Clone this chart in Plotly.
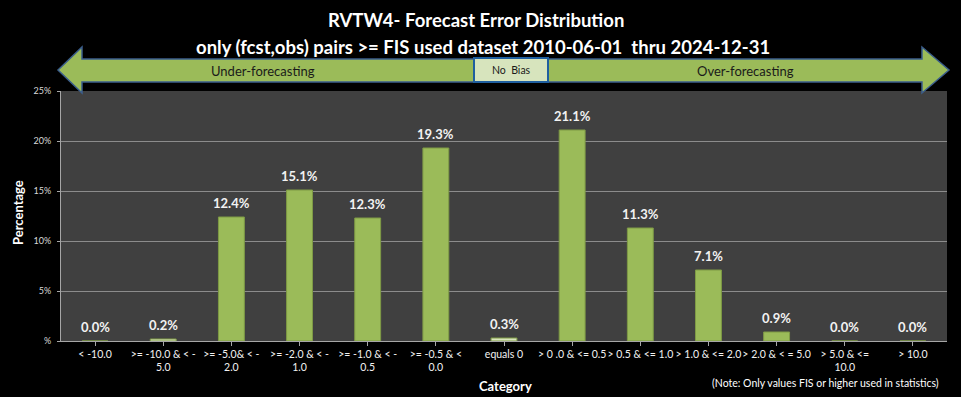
import plotly.graph_objects as go

categories = ["< -10.0", ">= -10.0 & < -<br>5.0", ">= -5.0& < -<br>2.0", ">= -2.0 & < -<br>1.0",
              ">= -1.0 & < -<br>0.5", ">= -0.5 & <<br>0.0", "equals 0", "> 0 .0 & <= 0.5",
              "> 0.5 & <= 1.0", "> 1.0 & <= 2.0", "> 2.0 & < = 5.0", "> 5.0 & <=<br>10.0", "> 10.0"]
values = [0.0, 0.2, 12.4, 15.1, 12.3, 19.3, 0.3, 21.1, 11.3, 7.1, 0.9, 0.0, 0.0]
ytick_vals = [0, 5, 10, 15, 20, 25]
ytick_text = ["%", "5%", "10%", "15%", "20%", "25%"]

title1 = "RVTW4- Forecast Error Distribution"
title2 = "only (fcst,obs) pairs >= FIS used dataset 2010-06-01  thru 2024-12-31"

W, H = 961, 397
L, R, T, B = 61, 947, 91, 341  # plot area in px

def px(x):
    return (x - L) / (R - L)

def py(y):
    return (B - y) / (B - T)

FONT = "Lato"
bar_colors = ["#9BBB59" if v >= 0.5 or v == 0 else "#D8E4BC" for v in values]

fig = go.Figure()
fig.add_trace(go.Bar(
    x=list(range(len(categories))), y=values, width=0.38,
    marker=dict(color=bar_colors, line=dict(color="#7E9A45", width=1)),
    hoverinfo="skip",
))

annotations = []
for i, v in enumerate(values):
    annotations.append(dict(x=i, y=v, xref="x", yref="y", text=f"{v:.1f}%", showarrow=False,
                            yanchor="middle", xanchor="center", yshift=14,
                            font=dict(family=FONT, size=13, color="#F2F2F2", weight="bold")))

def pa(xpix, ypix, text, size, color="white", bold=False, angle=0):
    f = dict(family=FONT, size=size, color=color)
    if bold:
        f["weight"] = "bold"
    return dict(x=px(xpix), y=py(ypix), xref="paper", yref="paper", text=text, showarrow=False,
                xanchor="center", yanchor="middle", textangle=angle, font=f)

annotations += [
    pa(476, 20, title1, 18.5, bold=True),
    pa(483, 47, title2, 18.5, bold=True),
    pa(263, 71, "Under-forecasting", 13, color="#1a1a1a"),
    pa(745, 71, "Over-forecasting", 13, color="#1a1a1a"),
    pa(511, 70, "No  Bias", 10.5, color="#1a1a1a"),
    pa(18, 213, "Percentage", 13, bold=True, angle=-90),
    pa(506, 386, "Category", 13, bold=True),
    pa(825, 383, "(Note: Only values FIS or higher used in statistics)", 10.5),
]

# double arrow path (pixel coords -> paper)
pts = [(58, 70), (82, 47), (82, 59), (922, 59), (922, 47), (949, 70), (922, 93), (922, 82),
       (82, 82), (82, 93)]
path = "M " + " L ".join(f"{px(x):.5f},{py(y):.5f}" for x, y in pts) + " Z"
shapes = [
    dict(type="path", path=path, xref="paper", yref="paper", fillcolor="#9BBB59",
         line=dict(color="#3B5E8C", width=1.5), layer="below"),
    dict(type="rect", xref="paper", yref="paper", x0=px(474), x1=px(548), y0=py(58), y1=py(82),
         fillcolor="#D7E4BD", line=dict(color="#1F5F9F", width=2)),
]

fig.update_layout(
    width=W, height=H,
    margin=dict(l=L, r=W - R, t=T, b=H - B),
    paper_bgcolor="black", plot_bgcolor="#404040",
    showlegend=False,
    annotations=annotations, shapes=shapes,
    xaxis=dict(tickvals=list(range(len(categories))), ticktext=categories,
               range=[-0.5, len(categories) - 0.5], tickson="boundaries",
               ticks="outside", ticklen=4, tickcolor="#A6A6A6", showgrid=False,
               showline=True, linecolor="#A6A6A6", linewidth=1, ticklabelstandoff=-1,
               tickfont=dict(family=FONT, size=10.5, color="#F2F2F2"), tickangle=0, fixedrange=True),
    yaxis=dict(range=[0, 25], tickvals=ytick_vals, ticktext=ytick_text,
               ticks="outside", ticklen=3, tickcolor="#A6A6A6", ticklabelstandoff=4,
               showgrid=True, gridcolor="#8C8C8C", gridwidth=1, zeroline=False,
               showline=True, linecolor="#A6A6A6", linewidth=1,
               tickfont=dict(family=FONT, size=9, color="#D9D9D9"), fixedrange=True),
)

fig.write_html("out.html", config={"displayModeBar": False},
               post_script="document.body.style.margin='0';document.body.style.overflow='hidden';")
